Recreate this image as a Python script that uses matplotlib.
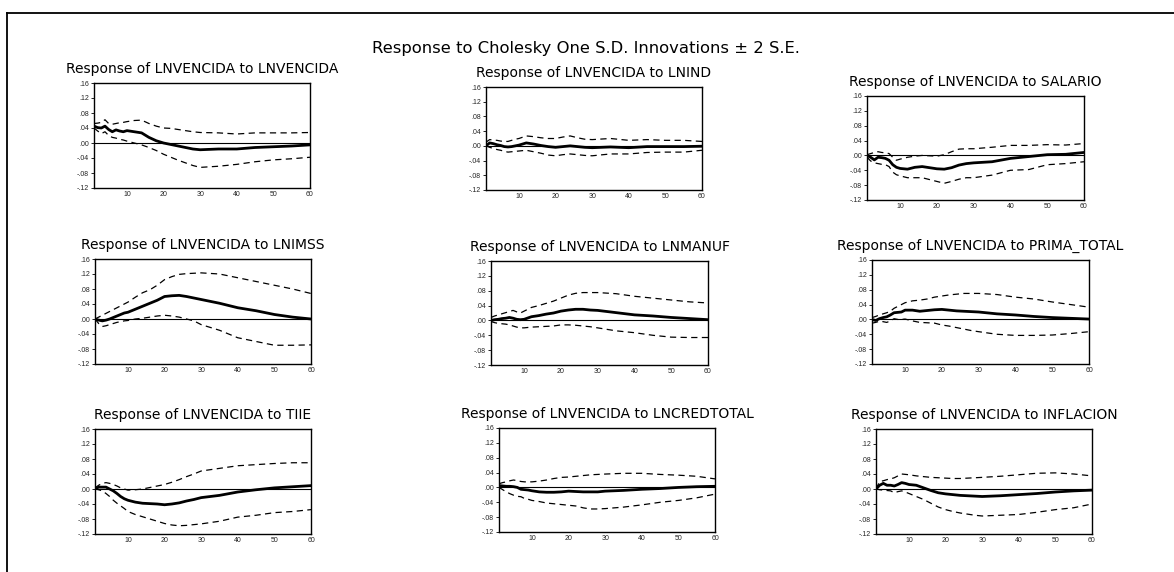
import matplotlib
matplotlib.use("Agg")
import matplotlib.pyplot as plt
from matplotlib.lines import Line2D

plt.rcParams['font.family'] = ['Liberation Sans', 'DejaVu Sans']

horizon = [1, 2, 3, 4, 5, 6, 7, 8, 9, 10, 12, 14, 16, 18, 20, 22, 24, 26, 28, 30,
           35, 40, 45, 50, 55, 60]

titles = ["LNVENCIDA", "LNIND", "SALARIO",
          "LNIMSS", "LNMANUF", "PRIMA_TOTAL",
          "TIIE", "LNCREDTOTAL", "INFLACION"]

yticks = [-.12, -.08, -.04, .00, .04, .08, .12, .16]
ytick_labels = ["-.12", "-.08", "-.04", ".00", ".04", ".08", ".12", ".16"]
xticks = [10, 20, 30, 40, 50, 60]

# response / upper band / lower band per shock
resp_lnvencida = [.045, .041, .040, .045, .036, .030, .035, .032, .030, .033, .030, .027, .015, .006, .000, -.004, -.008, -.012, -.016, -.018, -.016, -.016, -.012, -.010, -.008, -.005]
hi_lnvencida = [.052, .053, .055, .062, .052, .050, .052, .054, .055, .057, .060, .061, .052, .045, .040, .039, .036, .033, .030, .028, .027, .024, .027, .027, .027, .028]
lo_lnvencida = [.040, .032, .025, .030, .020, .015, .013, .010, .008, .005, .000, -.005, -.012, -.020, -.030, -.038, -.046, -.053, -.060, -.065, -.062, -.057, -.050, -.045, -.042, -.038]

resp_lnind = [.000, .008, .006, .003, .001, -.002, -.003, -.002, .000, .002, .008, .005, .001, -.002, -.004, -.002, .000, -.002, -.004, -.005, -.003, -.005, -.002, -.002, -.002, -.001]
hi_lnind = [.010, .017, .016, .015, .013, .012, .012, .015, .018, .020, .027, .025, .022, .020, .020, .024, .027, .022, .018, .017, .020, .015, .017, .015, .015, .012]
lo_lnind = [.000, -.004, -.007, -.010, -.012, -.015, -.017, -.016, -.015, -.014, -.012, -.016, -.020, -.025, -.027, -.024, -.022, -.024, -.026, -.027, -.022, -.022, -.018, -.017, -.017, -.012]

resp_salario = [.000, -.005, -.012, -.005, -.006, -.008, -.013, -.025, -.032, -.035, -.037, -.032, -.030, -.033, -.036, -.037, -.033, -.026, -.022, -.020, -.017, -.008, -.003, .002, .003, .008]
hi_salario = [.002, .005, .008, .010, .008, .007, .005, -.005, -.013, -.010, -.005, -.002, .000, -.001, -.002, .002, .010, .017, .018, .018, .022, .027, .027, .029, .028, .032]
lo_salario = [-.005, -.015, -.020, -.022, -.024, -.025, -.030, -.045, -.052, -.055, -.060, -.060, -.060, -.065, -.070, -.075, -.070, -.064, -.060, -.060, -.053, -.040, -.038, -.025, -.022, -.017]

resp_lnimss = [.000, -.003, -.005, -.003, .000, .004, .008, .012, .016, .018, .026, .034, .042, .050, .060, .062, .063, .060, .056, .052, .042, .030, .022, .012, .005, .000]
hi_lnimss = [.000, .005, .010, .015, .020, .025, .030, .035, .040, .045, .058, .070, .078, .090, .105, .113, .119, .121, .122, .123, .120, .110, .100, .090, .080, .068]
lo_lnimss = [.000, -.012, -.020, -.018, -.015, -.012, -.009, -.007, -.005, -.004, .000, .002, .005, .008, .010, .008, .005, .000, -.005, -.015, -.030, -.050, -.060, -.070, -.070, -.069]

resp_lnmanuf = [.000, .002, .003, .005, .006, .008, .006, .003, .002, .003, .010, .013, .017, .020, .025, .028, .030, .030, .028, .027, .021, .015, .012, .008, .005, .002]
hi_lnmanuf = [.008, .012, .015, .018, .021, .024, .027, .023, .020, .025, .035, .040, .046, .052, .060, .068, .073, .075, .075, .075, .072, .065, .060, .055, .050, .047]
lo_lnmanuf = [-.003, -.006, -.008, -.009, -.010, -.012, -.015, -.018, -.020, -.020, -.018, -.017, -.016, -.015, -.012, -.012, -.013, -.015, -.017, -.020, -.028, -.033, -.040, -.045, -.046, -.046]

resp_prima = [.000, -.003, .002, .005, .007, .012, .018, .019, .020, .025, .025, .022, .024, .026, .027, .025, .023, .022, .021, .020, .015, .012, .008, .005, .003, .001]
hi_prima = [.005, .008, .012, .015, .018, .022, .030, .035, .040, .045, .050, .052, .055, .060, .063, .066, .068, .070, .070, .070, .067, .060, .055, .047, .040, .033]
lo_prima = [-.010, -.008, -.005, -.006, -.008, -.004, .002, .000, .000, .001, -.004, -.008, -.009, -.010, -.015, -.018, -.022, -.026, -.030, -.033, -.040, -.043, -.043, -.042, -.038, -.033]

resp_tiie = [.000, .005, .005, .005, .000, -.005, -.012, -.020, -.026, -.030, -.035, -.038, -.039, -.040, -.042, -.040, -.037, -.032, -.028, -.023, -.017, -.008, -.002, .003, .006, .009]
hi_tiie = [.003, .010, .015, .017, .015, .012, .008, .003, .000, -.003, -.002, .000, .004, .008, .012, .018, .025, .033, .040, .048, .055, .062, .065, .068, .070, .070]
lo_tiie = [.000, -.002, -.005, -.012, -.020, -.030, -.038, -.045, -.052, -.060, -.068, -.074, -.080, -.086, -.092, -.096, -.098, -.097, -.095, -.093, -.086, -.075, -.070, -.063, -.060, -.055]

resp_lncred = [.005, .004, .003, .003, .002, .000, -.005, -.006, -.007, -.009, -.012, -.013, -.013, -.012, -.010, -.011, -.012, -.012, -.012, -.010, -.008, -.005, -.003, .000, .002, .003]
hi_lncred = [.010, .013, .015, .018, .020, .018, .016, .015, .015, .015, .017, .020, .024, .027, .028, .030, .032, .034, .035, .036, .038, .038, .035, .033, .030, .023]
lo_lncred = [.000, -.006, -.012, -.017, -.021, -.024, -.025, -.030, -.032, -.035, -.038, -.042, -.044, -.046, -.048, -.050, -.055, -.058, -.058, -.057, -.053, -.047, -.040, -.035, -.028, -.018]

resp_inflacion = [.000, .010, .015, .010, .010, .008, .012, .017, .015, .012, .010, .003, -.004, -.010, -.013, -.015, -.017, -.018, -.019, -.020, -.018, -.015, -.012, -.008, -.005, -.003]
hi_inflacion = [.000, .020, .022, .025, .027, .030, .035, .040, .039, .038, .035, .033, .031, .030, .029, .028, .028, .029, .030, .031, .034, .038, .042, .043, .040, .035]
lo_inflacion = [.000, -.002, -.003, -.004, -.005, -.010, -.007, -.005, -.008, -.012, -.020, -.028, -.038, -.048, -.055, -.060, -.064, -.067, -.070, -.072, -.070, -.068, -.062, -.055, -.050, -.040]

responses = [resp_lnvencida, resp_lnind, resp_salario, resp_lnimss, resp_lnmanuf,
             resp_prima, resp_tiie, resp_lncred, resp_inflacion]
uppers = [hi_lnvencida, hi_lnind, hi_salario, hi_lnimss, hi_lnmanuf,
          hi_prima, hi_tiie, hi_lncred, hi_inflacion]
lowers = [lo_lnvencida, lo_lnind, lo_salario, lo_lnimss, lo_lnmanuf,
          lo_prima, lo_tiie, lo_lncred, lo_inflacion]

W, H = 1174, 572
# axes boxes in pixels: left, top, right, bottom
boxes = [(94, 83, 310, 188), (486, 87, 702, 190), (867, 96, 1084, 200),
         (95, 259, 311, 364), (491, 261, 708, 365), (872, 260, 1089, 364),
         (95, 429, 311, 534), (499, 428, 715, 532), (876, 429, 1092, 534)]

fig = plt.figure(figsize=(W / 100, H / 100), dpi=100)

# frame around the page (only left and top edges are visible)
fig.add_artist(Line2D([7 / W, 7 / W], [0, 1 - 13 / H], transform=fig.transFigure,
                      color='black', lw=1.3))
fig.add_artist(Line2D([7 / W, 1], [1 - 13 / H, 1 - 13 / H], transform=fig.transFigure,
                      color='black', lw=1.3))

# the original text is wide, DejaVu Sans comes closest
fig.text(586 / W, 1 - 48 / H, "Response to Cholesky One S.D. Innovations \u00b1 2 S.E.",
         ha='center', va='center', fontsize=11.8, family='DejaVu Sans')

for name, box, r, hi, lo in zip(titles, boxes, responses, uppers, lowers):
    l, t, rr, b = box
    ax = fig.add_axes([l / W, 1 - b / H, (rr - l) / W, (b - t) / H])
    ax.axhline(0, color='black', lw=0.8)
    ax.plot(horizon, hi, color='black', lw=0.9, ls=(0, (5, 3.5)))
    ax.plot(horizon, lo, color='black', lw=0.9, ls=(0, (5, 3.5)))
    ax.plot(horizon, r, color='black', lw=2.0)
    ax.set_xlim(1, 60)
    ax.set_ylim(-.12, .16)
    ax.set_yticks(yticks)
    ax.set_yticklabels(ytick_labels)
    ax.set_xticks(xticks)
    ax.tick_params(axis='y', direction='out', length=2.5, width=0.6,
                   labelsize=5, pad=1, labelcolor='#222222')
    ax.tick_params(axis='x', direction='in', length=0, width=0.6,
                   labelsize=5, pad=2, labelcolor='#222222')
    for s in ax.spines.values():
        s.set_linewidth(1.0)
    fig.text((l + rr) / 2 / W, 1 - (t - 14) / H, "Response of LNVENCIDA to " + name,
             ha='center', va='center', fontsize=10, family='DejaVu Sans')

fig.savefig("out.png", dpi=100)
